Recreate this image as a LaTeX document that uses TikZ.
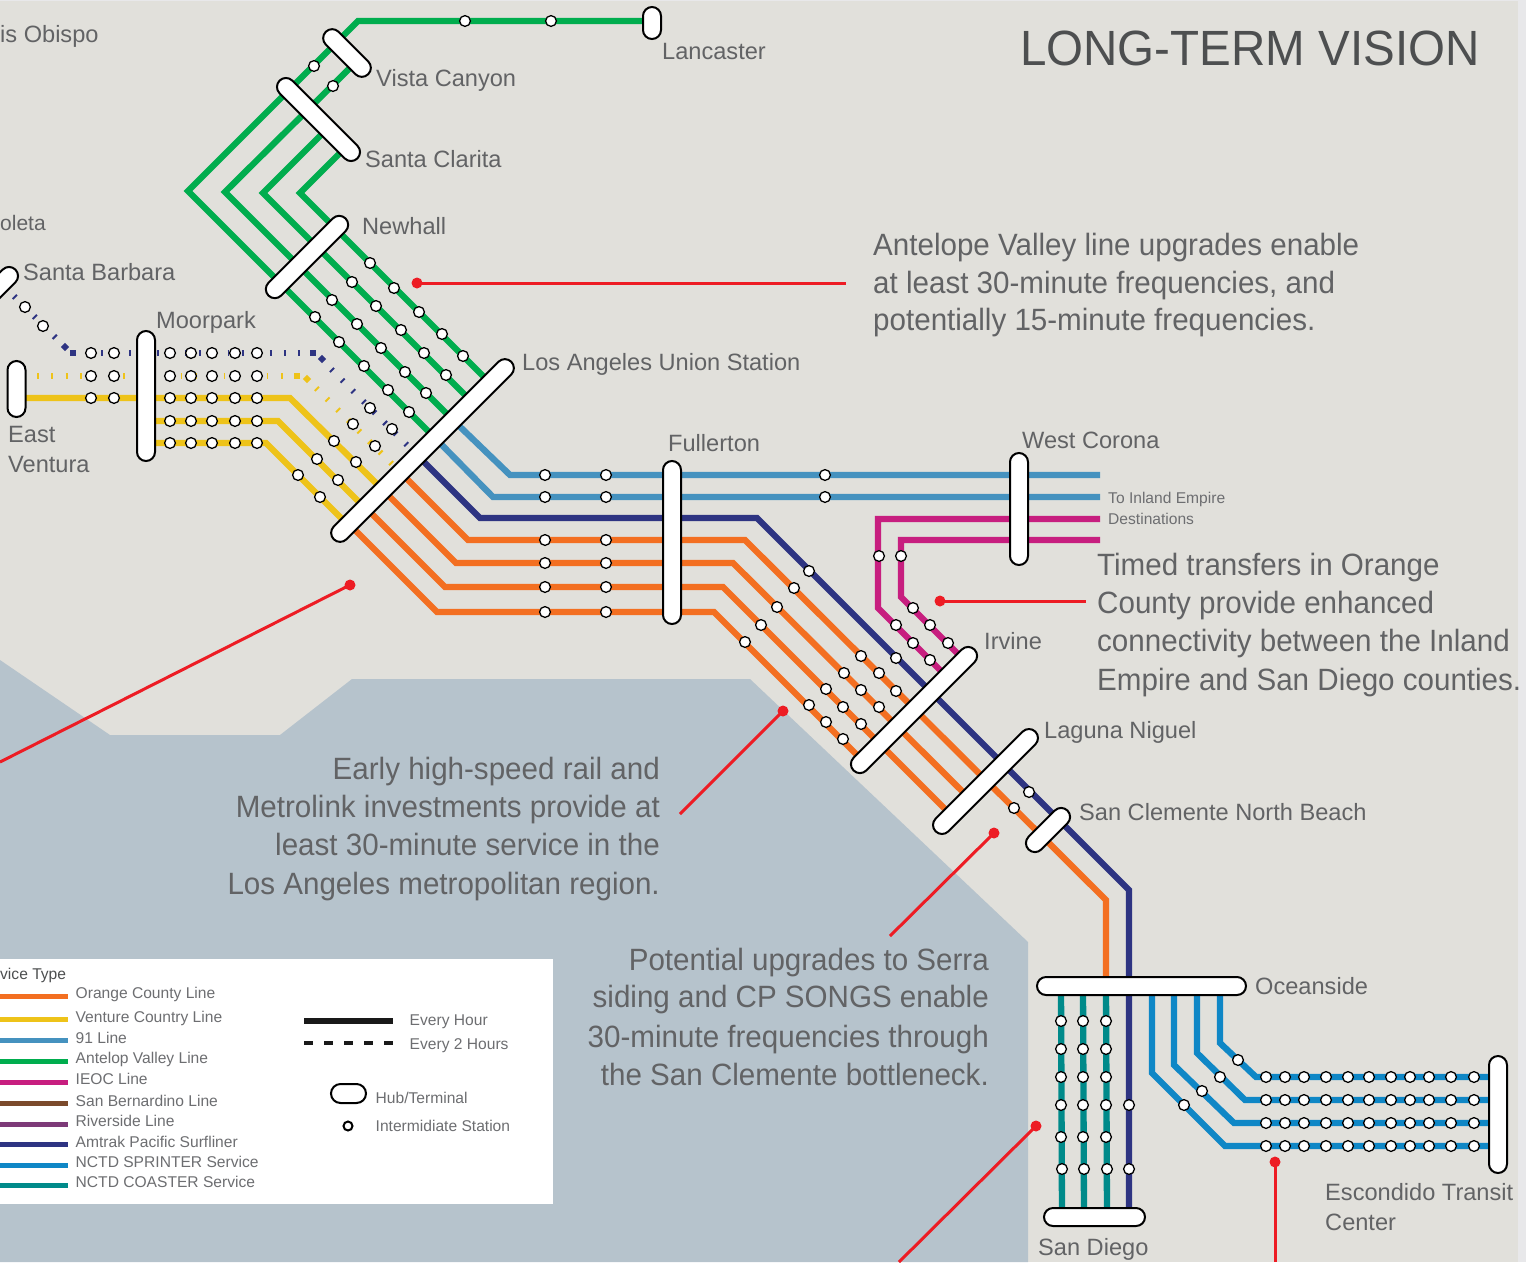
\documentclass[tikz,border=0pt]{standalone}
\usepackage{fontspec}
\setmainfont{Liberation Sans}
\newfontfamily\narrowf[FakeStretch=0.96]{Liberation Sans}
\usetikzlibrary{shapes.misc}
\definecolor{land}{HTML}{E1E0DB}
\definecolor{water}{HTML}{B6C3CC}
\definecolor{edgec}{HTML}{E8E8EA}
\definecolor{cOrange}{HTML}{F36F21}
\definecolor{cYellow}{HTML}{EEC319}
\definecolor{cGreen}{HTML}{00AD4E}
\definecolor{cBlue}{HTML}{4592BF}
\definecolor{cNavy}{HTML}{2E3482}
\definecolor{cMag}{HTML}{C71E7F}
\definecolor{cSprint}{HTML}{0F87C6}
\definecolor{cTeal}{HTML}{008A8A}
\definecolor{cBrown}{HTML}{7B4A2C}
\definecolor{cPurple}{HTML}{7D3A78}
\definecolor{cRed}{HTML}{ED1C24}
\definecolor{tGray}{HTML}{626365}
\definecolor{tTitle}{HTML}{4D4F50}
\definecolor{tLeg}{HTML}{6D6E71}
\tikzset{
  rail/.style={line width=6.3pt,line join=miter,miter limit=10},
  tickdash/.style={line width=6pt,dash pattern=on 1.8pt off 12.4pt},
  hub/.style={draw=black,fill=white,line width=2pt,rounded rectangle,minimum height=18pt,inner sep=0pt,outer sep=0pt},
  stn/.style={circle,draw=black,fill=white,line width=1.3pt,minimum size=10.8pt,inner sep=0pt},
  callout/.style={cRed,line width=3pt},
  cdot/.style={circle,fill=cRed,minimum size=11pt,inner sep=0pt},
  lbl/.style={anchor=base west,inner sep=0pt,text=tGray,font=\fontsize{23.6}{23.6}\selectfont},
  note/.style={anchor=base west,inner sep=0pt,text=tGray,font=\narrowf\fontsize{30.8}{30.8}\selectfont},
  noter/.style={anchor=base east,inner sep=0pt,text=tGray,font=\narrowf\fontsize{30.8}{30.8}\selectfont},
  small/.style={anchor=base west,inner sep=0pt,text=tLeg,font=\fontsize{15.6}{15.6}\selectfont},
  legline/.style={line width=5pt},
}
\begin{document}
\begin{tikzpicture}[x=1pt,y=-1pt]
\useasboundingbox (0,0) rectangle (1526,1262);
% ground
\fill[edgec] (0,0) rectangle (1526,1262);
\fill[land] (0,1) rectangle (1518,1262);
\fill[water] (0,660) -- (110,735) -- (280,735) -- (352,679) -- (750,679) -- (1028,942) -- (1028,1262) -- (0,1262) -- cycle;
\fill[white] (0,959) rectangle (553,1204);
% rail way points
\coordinate (lanc) at (652,21);
\coordinate (g0) at (358,21);
\coordinate (g1a) at (188,191);
\coordinate (g1b) at (435,438);
\coordinate (g2t) at (356,62);
\coordinate (g2a) at (225,192);
\coordinate (g2b) at (453,420);
\coordinate (g3t) at (327.5,128.5);
\coordinate (g3a) at (263,193);
\coordinate (g3b) at (471.5,401.5);
\coordinate (g4t) at (346,147);
\coordinate (g4a) at (300,193);
\coordinate (g4b) at (490,383);
\coordinate (b1a) at (510,475);
\coordinate (b1b) at (1100,475);
\coordinate (b2a) at (493,497);
\coordinate (b2b) at (1100,497);
\coordinate (n0) at (417.5,455.5);
\coordinate (n1) at (480,518);
\coordinate (n2) at (757,518);
\coordinate (n3) at (1129,890);
\coordinate (n4) at (1129,1217);
\coordinate (oa0) at (400.5,472.5);
\coordinate (oa1) at (468,540);
\coordinate (oa2) at (745,540);
\coordinate (oa3) at (1106,900);
\coordinate (oa4) at (1106,986);
\coordinate (ob0) at (383,490);
\coordinate (ob1) at (456,563);
\coordinate (ob2) at (733,563);
\coordinate (ob3) at (969,798);
\coordinate (oc0) at (365.5,507.5);
\coordinate (oc1) at (445,587);
\coordinate (oc2) at (723,587);
\coordinate (oc3) at (951.5,815.5);
\coordinate (od0) at (349,524);
\coordinate (od1) at (437,612);
\coordinate (od2) at (714,612);
\coordinate (od3) at (863,761);
\coordinate (y0) at (16.5,398);
\coordinate (y1) at (290,398);
\coordinate (y2s) at (146,421);
\coordinate (y2) at (278,421);
\coordinate (y2e) at (365,508);
\coordinate (y3s) at (146,443);
\coordinate (y3) at (266,443);
\coordinate (y3e) at (348,525);
\coordinate (m1s) at (1100,519);
\coordinate (m1a) at (878,519);
\coordinate (m1b) at (878,608);
\coordinate (m1e) at (947,677);
\coordinate (m2s) at (1100,540);
\coordinate (m2a) at (901,540);
\coordinate (m2b) at (901,597);
\coordinate (m2e) at (964,660);
% rails
\draw[rail,cGreen] (lanc) -- (g0) -- (g1a) -- (g1b);
\draw[rail,cGreen] (g2t) -- (g2a) -- (g2b);
\draw[rail,cGreen] (g3t) -- (g3a) -- (g3b);
\draw[rail,cGreen] (g4t) -- (g4a) -- (g4b);
\draw[rail,cBlue] (g2b) -- (b1a) -- (b1b);
\draw[rail,cBlue] (g1b) -- (b2a) -- (b2b);
\draw[rail,cMag] (m1s) -- (m1a) -- (m1b) -- (m1e);
\draw[rail,cMag] (m2s) -- (m2a) -- (m2b) -- (m2e);
\draw[rail,cNavy] (n0) -- (n1) -- (n2) -- (n3) -- (n4);
\draw[rail,cOrange] (oa0) -- (oa1) -- (oa2) -- (oa3) -- (oa4);
\draw[rail,cOrange] (ob0) -- (ob1) -- (ob2) -- (ob3);
\draw[rail,cOrange] (oc0) -- (oc1) -- (oc2) -- (oc3);
\draw[rail,cOrange] (od0) -- (od1) -- (od2) -- (od3);
\draw[rail,cYellow] (y0) -- (y1) -- (ob0);
\draw[rail,cYellow] (y2s) -- (y2) -- (y2e);
\draw[rail,cYellow] (y3s) -- (y3) -- (y3e);
% dashed rails
\coordinate (yd0) at (37,376);
\coordinate (yd1) at (284,376);
\coordinate (yd2) at (316.2,388.2);
\coordinate (yd3) at (400,472);
\draw[tickdash,cYellow,dash pattern=on 1.8pt off 12.55pt] (yd0) -- (yd1);
\draw[tickdash,cYellow,dash pattern=on 2pt off 13pt] (yd2) -- (yd3);
\fill[cYellow] (293.5,373) rectangle (299.5,379);
\fill[cYellow] (307,374.8) -- (311.2,379) -- (307,383.2) -- (302.8,379) -- cycle;
\coordinate (nd0) at (101,353);
\coordinate (nd1) at (300,353);
\coordinate (nd2) at (331.3,369.3);
\coordinate (nd3) at (417,455);
\draw[tickdash,cNavy,dash pattern=on 1.8pt off 12.27pt] (nd0) -- (nd1);
\draw[tickdash,cNavy,dash pattern=on 2pt off 13pt] (nd2) -- (nd3);
\fill[cNavy] (310,350) rectangle (316,356);
\fill[cNavy] (322,354.8) -- (326.2,359) -- (322,363.2) -- (317.8,359) -- cycle;
\fill[cNavy] (70,350) rectangle (76,356);
\fill[cNavy] (65,342.8) -- (69.2,347) -- (65,351.2) -- (60.8,347) -- cycle;
\coordinate (ne0) at (55.5,337.5);
\coordinate (ne1) at (0,282);
\draw[tickdash,cNavy,dash pattern=on 2pt off 12.1pt] (ne0) -- (ne1);
% teal and sprinter
\foreach \x/\e [count=\i] in {1061/1062,1083/1084,1106/1107} {
  \coordinate (tt\i) at (\x,986);
  \coordinate (tb\i) at (\e,1217);
  \draw[rail,cTeal] (tt\i) -- (tb\i);
}
\foreach \x/\ya/\xb/\yb [count=\i] in {1152/1073/1225/1146,1174/1065/1234/1123,1197/1053/1245/1100,1220/1043/1256/1077} {
  \coordinate (sp\i a) at (\x,986);
  \coordinate (sp\i b) at (\x,\ya);
  \coordinate (sp\i c) at (\xb,\yb);
  \coordinate (sp\i d) at (1498,\yb);
  \draw[rail,cSprint] (sp\i a) -- (sp\i b) -- (sp\i c) -- (sp\i d);
}
% hubs
\node[hub,minimum width=32pt,rotate=90] (lancaster) at (652,23) {};
\node[hub,minimum width=60pt,rotate=-45] (vista) at (347,53) {};
\node[hub,minimum width=110pt,rotate=-45] (santaclarita) at (318.5,119.5) {};
\node[hub,minimum width=109pt,rotate=45] (newhall) at (307,257) {};
\node[hub,minimum width=86pt,rotate=45] (santabarbara) at (-15,300) {};
\node[hub,minimum width=56pt,rotate=90] (eastventura) at (16.5,389) {};
\node[hub,minimum width=130pt,rotate=90] (moorpark) at (146,396) {};
\node[hub,minimum width=251pt,rotate=45] (launion) at (422.5,450.5) {};
\node[hub,minimum width=163pt,rotate=90] (fullerton) at (672,542.5) {};
\node[hub,minimum width=112pt,rotate=90] (westcorona) at (1019,509) {};
\node[hub,minimum width=171pt,rotate=45] (irvine) at (914,710) {};
\node[hub,minimum width=141pt,rotate=45] (laguna) at (985.5,781.5) {};
\node[hub,minimum width=55pt,rotate=45] (sanclemente) at (1048,830) {};
\node[hub,minimum width=209pt] (oceanside) at (1141.5,986) {};
\node[hub,minimum width=101pt] (sandiego) at (1094.5,1217) {};
\node[hub,minimum width=117pt,rotate=90] (escondido) at (1498,1114.5) {};
% stations
\foreach \p [count=\i] in {(465,21),(551,21),(314,66),(333,86),
 (370,263),(394,288),(419,312),(442,334),(463,356),
 (352,282),(376,306),(401,330),(424,353),(446,375),
 (332,300),(357,324),(381,348),(405,372),(426,393),
 (315,317),(339,342),(364,366),(388,390),(409,412),
 (25,307),(43,326),(370,408),(392,429),(353,424),(375,446),
 (334,441),(356,462),(317,459),(338,480),(298,475),(320,497),
 (809,571),(896,658),(1029,792),
 (794,588),(861,656),(879,673),(896,691),(1014,808),
 (777,607),(844,673),(861,690),(879,707),
 (761,625),(826,689),(843,707),(861,724),
 (745,642),(809,705),(826,722),(843,739),
 (896,625),(913,643),(930,660),(913,608),(930,625),(948,643),(879,556),(901,556),
 (1184,1105),(1202,1091),(1220,1077),(1238,1060),
 (1129,1105),(1129,1169),(1062,1169),(1084,1169),(1107,1169)}
  \node[stn] (st\i) at \p {};
\foreach \y in {353,376,398} \foreach \x in {91,114} \node[stn] (w-\x-\y) at (\x,\y) {};
\foreach \y in {353,376,398,421,443} \foreach \x in {170,191,212,235,257} \node[stn] (m-\x-\y) at (\x,\y) {};
\foreach \y in {475,497} \foreach \x in {545,606,825} \node[stn] (b-\x-\y) at (\x,\y) {};
\foreach \y in {540,563,587,612} \foreach \x in {545,606} \node[stn] (o-\x-\y) at (\x,\y) {};
\foreach \y in {1021,1049,1077,1105,1137} \foreach \x in {1061,1083,1106} \node[stn] (t-\x-\y) at (\x,\y) {};
\foreach \y in {1077,1100,1123,1146} \foreach \x in {1266,1285,1304,1326,1348,1369,1391,1410,1429,1451,1474} \node[stn] (s-\x-\y) at (\x,\y) {};
% callouts
\foreach \xa/\ya/\xb/\yb [count=\i] in {417/283/846/283,350/585/0/762,783/711/680/814,994/833/890/936,940/601/1086/601,1036/1126/899/1262,1275/1162/1275/1262} {
  \node[cdot] (dot\i) at (\xa,\ya) {};
  \coordinate (end\i) at (\xb,\yb);
  \draw[callout] (dot\i.center) -- (end\i);
}
% station labels
\node[lbl] (tObispo) at (0,42) {is Obispo};
\node[lbl,font=\fontsize{21}{21}\selectfont] (tGoleta) at (0,230) {oleta};
\node[lbl] (tLanc) at (662,59) {Lancaster};
\node[lbl] (tVista) at (376,86) {Vista Canyon};
\node[lbl] (tClarita) at (365,167) {Santa Clarita};
\node[lbl] (tNewhall) at (362,234) {Newhall};
\node[lbl] (tSB) at (23,280) {Santa Barbara};
\node[lbl] (tMoor) at (156,328) {Moorpark};
\node[lbl] (tEast) at (8,442) {East};
\node[lbl] (tVent) at (8,472) {Ventura};
\node[lbl] (tLA) at (522,370) {Los Angeles Union Station};
\node[lbl] (tFull) at (668,451) {Fullerton};
\node[lbl] (tWC) at (1022,448) {West Corona};
\node[lbl] (tIrv) at (984,649) {Irvine};
\node[lbl] (tLag) at (1044,738) {Laguna Niguel};
\node[lbl] (tSC) at (1079,820) {San Clemente North Beach};
\node[lbl] (tOce) at (1255,994) {Oceanside};
\node[lbl] (tEsc) at (1325,1200) {Escondido Transit};
\node[lbl] (tCen) at (1325,1230) {Center};
\node[lbl] (tSD) at (1038,1255) {San Diego};
\node[small] (tInl) at (1108,503) {To Inland Empire};
\node[small] (tDes) at (1108,524) {Destinations};
% title
\node[anchor=base west,inner sep=0pt,text=tTitle,font=\narrowf\fontsize{49.5}{49.5}\selectfont] (title) at (1020,65) {LONG-TERM VISION};
% notes
\node[note] (a1) at (873,255) {Antelope Valley line upgrades enable};
\node[note] (a2) at (873,293) {at least 30-minute frequencies, and};
\node[note] (a3) at (873,330) {potentially 15-minute frequencies.};
\node[note] (b1) at (1097,575) {Timed transfers in Orange};
\node[note] (b2) at (1097,613) {County provide enhanced};
\node[note] (b3) at (1097,651) {connectivity between the Inland};
\node[note] (b4) at (1097,690) {Empire and San Diego counties.};
\node[noter] (c1) at (660,779) {Early high-speed rail and};
\node[noter] (c2) at (660,817) {Metrolink investments provide at};
\node[noter] (c3) at (660,855) {least 30-minute service in the};
\node[noter] (c4) at (660,894) {Los Angeles metropolitan region.};
\node[noter] (d1) at (989,970) {Potential upgrades to Serra};
\node[noter] (d2) at (989,1007) {siding and CP SONGS enable};
\node[noter] (d3) at (989,1047) {30-minute frequencies through};
\node[noter] (d4) at (989,1085) {the San Clemente bottleneck.};
% legend
\node[small,text=tTitle] (lgT) at (0,979) {vice Type};
\foreach \c/\ly/\by/\t [count=\i] in {
 cOrange/996/998/Orange County Line,
 cYellow/1019/1022/Venture Country Line,
 cBlue/1040/1043/91 Line,
 cGreen/1061/1063/Antelop Valley Line,
 cMag/1082/1084/IEOC Line,
 cBrown/1103/1106/San Bernardino Line,
 cPurple/1124/1126/Riverside Line,
 cNavy/1144/1147/Amtrak Pacific Surfliner,
 cSprint/1165/1167/NCTD SPRINTER Service,
 cTeal/1185/1187/NCTD COASTER Service} {
  \coordinate (ll\i a) at (0,\ly);
  \coordinate (ll\i b) at (68,\ly);
  \draw[legline,\c] (ll\i a) -- (ll\i b);
  \node[small] (lt\i) at (75.5,\by) {\t};
}
\coordinate (eh1) at (304,1021);
\coordinate (eh2) at (393,1021);
\draw[line width=6.5pt,black!90] (eh1) -- (eh2);
\node[small] (lhA) at (409.5,1025) {Every Hour};
\coordinate (e21) at (304,1043);
\coordinate (e22) at (393,1043);
\draw[line width=3.6pt,black!90,dash pattern=on 9pt off 11pt,dash phase=0pt] (e21) -- (e22);
\node[small] (lhB) at (409.5,1049) {Every 2 Hours};
\node[hub,minimum width=35pt,minimum height=19pt] (lgHub) at (348.5,1093.5) {};
\node[small] (lhC) at (375.5,1103) {Hub/Terminal};
\node[stn,minimum size=9pt,line width=2pt] (lgSt) at (348,1126) {};
\node[small] (lhD) at (375.5,1131) {Intermidiate Station};
\end{tikzpicture}
\end{document}
